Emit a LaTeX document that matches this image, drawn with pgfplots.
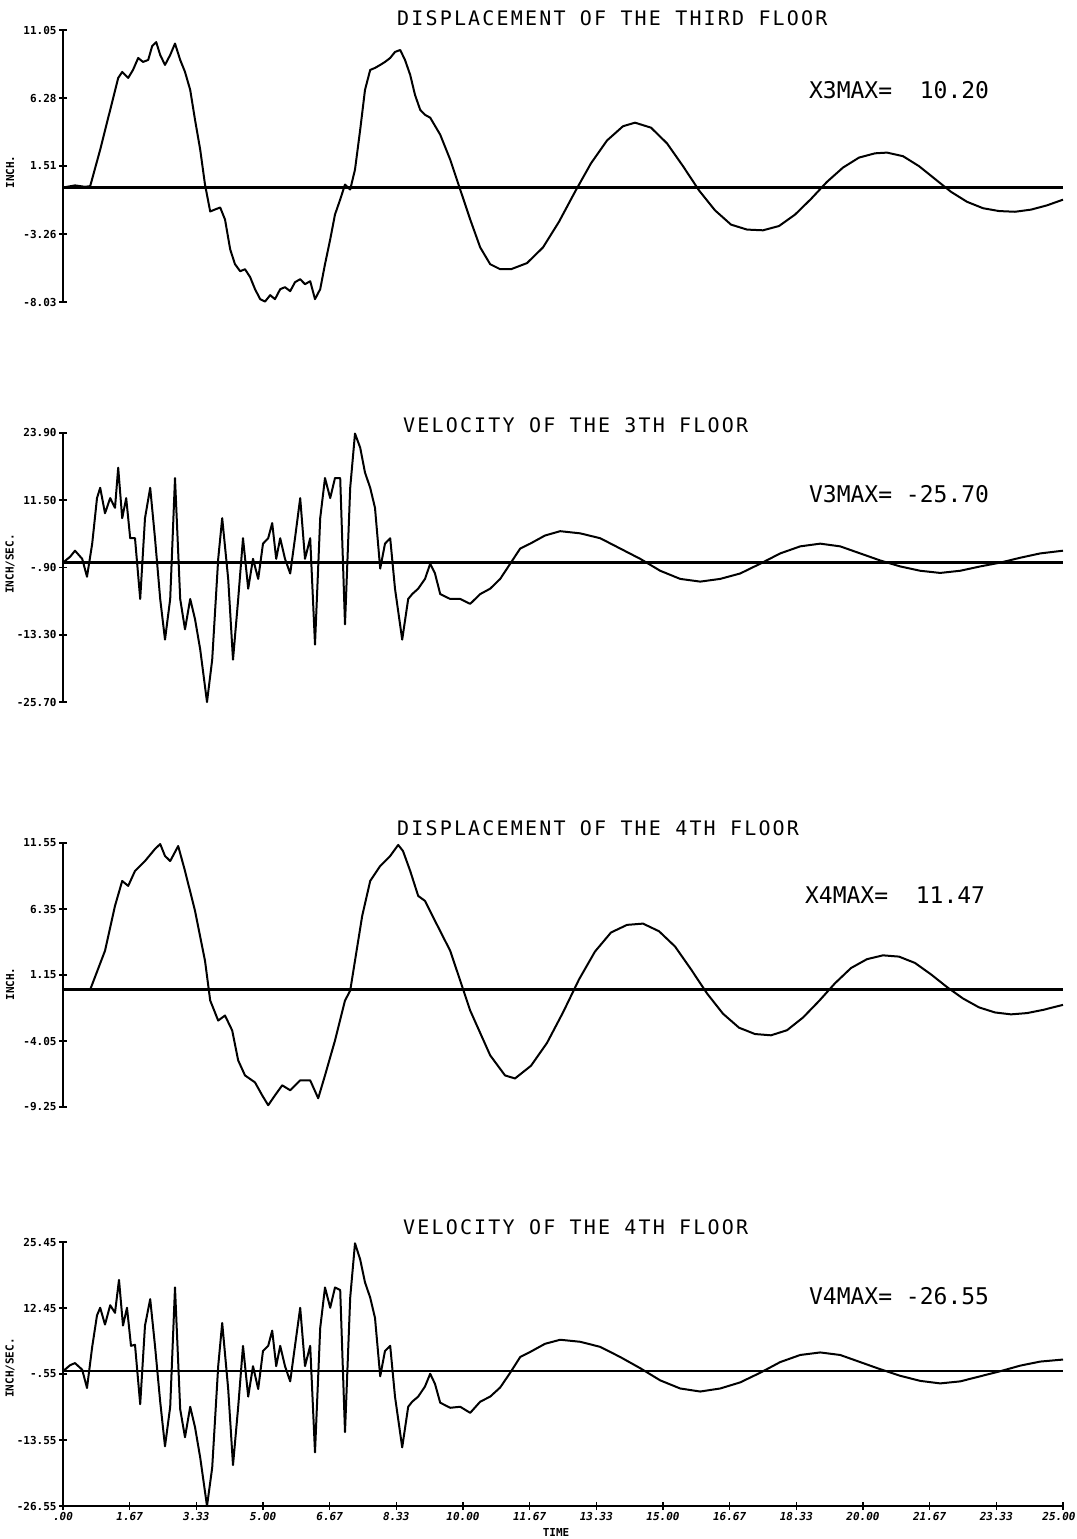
\documentclass[border=0pt]{standalone}
\usepackage{pgfplots}
\usepackage{pgfplotstable}
\pgfplotsset{compat=1.18}
\usepackage{fontspec}
\setmainfont{DejaVu Sans Mono}
\newfontfamily\titlefont[LetterSpace=11]{DejaVu Sans Mono}

\pgfplotstableread{
t v
0 0
0.3 0.15
0.55 0.05
0.68 0.1
0.93 2.66
1.18 5.45
1.38 7.69
1.48 8.11
1.63 7.69
1.75 8.25
1.88 9.09
2.0 8.81
2.13 8.95
2.23 9.93
2.33 10.2
2.43 9.30
2.55 8.60
2.68 9.30
2.8 10.1
2.93 8.95
3.05 8.11
3.18 6.85
3.3 4.76
3.43 2.66
3.55 0.21
3.68 -1.68
3.8 -1.54
3.93 -1.40
4.05 -2.24
4.18 -4.34
4.3 -5.38
4.43 -5.87
4.55 -5.73
4.68 -6.29
4.8 -7.13
4.93 -7.83
5.05 -8.0
5.18 -7.55
5.3 -7.83
5.43 -7.13
5.55 -6.99
5.68 -7.27
5.8 -6.64
5.93 -6.43
6.05 -6.78
6.18 -6.57
6.3 -7.83
6.43 -7.13
6.55 -5.38
6.68 -3.64
6.8 -1.89
6.93 -0.84
7.05 0.21
7.18 -0.14
7.3 1.26
7.43 4.06
7.55 6.85
7.68 8.25
7.8 8.39
7.93 8.60
8.05 8.81
8.18 9.09
8.3 9.51
8.43 9.65
8.55 8.95
8.68 7.90
8.8 6.50
8.93 5.45
9.05 5.10
9.18 4.90
9.43 3.71
9.68 1.96
9.93 -0.14
10.18 -2.24
10.43 -4.20
10.68 -5.38
10.93 -5.73
11.2 -5.73
11.6 -5.3
12.0 -4.2
12.4 -2.4
12.8 -0.3
13.2 1.7
13.6 3.3
14.0 4.3
14.3 4.55
14.7 4.2
15.1 3.1
15.5 1.5
15.9 -0.2
16.3 -1.6
16.7 -2.6
17.1 -2.95
17.5 -3.0
17.9 -2.7
18.3 -1.9
18.7 -0.8
19.1 0.4
19.5 1.4
19.9 2.1
20.3 2.4
20.6 2.45
21.0 2.2
21.4 1.5
21.8 0.6
22.2 -0.3
22.6 -1.0
23.0 -1.45
23.4 -1.65
23.8 -1.7
24.2 -1.55
24.6 -1.25
25.0 -0.85
}\dispthree

\pgfplotstableread{
t v
0 0
0.18 1.1
0.3 2.2
0.48 0.7
0.6 -2.6
0.73 3.5
0.85 11.9
0.93 13.8
1.05 9.1
1.18 11.9
1.3 10.1
1.38 17.5
1.48 8.2
1.58 11.9
1.68 4.5
1.8 4.5
1.93 -6.7
2.05 8.2
2.18 13.8
2.3 4.5
2.43 -6.7
2.55 -14.2
2.68 -6.7
2.8 15.6
2.93 -6.7
3.05 -12.3
3.18 -6.7
3.3 -10.4
3.43 -16.0
3.6 -25.7
3.73 -17.9
3.88 0.7
3.98 8.2
4.13 -3.0
4.25 -17.9
4.38 -6.7
4.5 4.5
4.63 -4.8
4.75 0.7
4.88 -3.0
5.0 3.5
5.13 4.5
5.23 7.3
5.33 0.7
5.43 4.5
5.55 0.7
5.68 -2.0
5.8 4.5
5.93 11.9
6.05 0.7
6.18 4.5
6.3 -15.1
6.43 8.2
6.55 15.6
6.68 11.9
6.8 15.6
6.93 15.6
7.05 -11.4
7.18 13.8
7.3 23.8
7.43 21.2
7.55 16.6
7.68 13.8
7.8 10.1
7.93 -1.1
8.05 3.5
8.18 4.5
8.3 -4.8
8.48 -14.2
8.63 -6.7
8.73 -5.8
8.88 -4.8
9.05 -3.0
9.18 -0.2
9.3 -2.0
9.43 -5.8
9.68 -6.7
9.93 -6.7
10.18 -7.6
10.43 -5.8
10.68 -4.8
10.93 -3.0
11.18 -0.2
11.43 2.6
11.68 3.5
12.05 5.0
12.43 5.8
12.93 5.4
13.43 4.5
13.93 2.6
14.43 0.7
14.93 -1.5
15.43 -3.0
15.93 -3.5
16.43 -3.0
16.93 -2.0
17.43 -0.2
17.93 1.7
18.43 3.0
18.93 3.5
19.43 3.0
19.93 1.7
20.43 0.4
20.93 -0.7
21.43 -1.5
21.93 -1.9
22.43 -1.5
22.93 -0.7
23.43 0.0
23.93 0.9
24.43 1.7
25.0 2.2
}\velthree

\pgfplotstableread{
t v
0 0
0.68 0
1.05 3.06
1.3 6.60
1.48 8.56
1.63 8.17
1.8 9.35
2.05 10.13
2.3 11.08
2.43 11.47
2.55 10.53
2.68 10.13
2.88 11.31
3.05 9.35
3.3 6.21
3.55 2.28
3.68 -0.86
3.88 -2.44
4.05 -2.04
4.23 -3.22
4.38 -5.58
4.55 -6.76
4.8 -7.31
4.98 -8.33
5.13 -9.11
5.3 -8.33
5.48 -7.54
5.68 -7.93
5.93 -7.15
6.18 -7.15
6.38 -8.56
6.55 -6.76
6.8 -4.01
7.05 -0.86
7.18 -0.08
7.3 2.28
7.48 5.81
7.68 8.56
7.93 9.74
8.18 10.53
8.38 11.40
8.5 10.92
8.68 9.35
8.88 7.38
9.05 6.99
9.3 5.42
9.68 3.06
10.18 -1.65
10.68 -5.18
11.05 -6.76
11.3 -7.0
11.7 -6.0
12.1 -4.2
12.5 -1.8
12.9 0.8
13.3 3.0
13.7 4.5
14.1 5.1
14.5 5.2
14.9 4.6
15.3 3.4
15.7 1.6
16.1 -0.3
16.5 -1.9
16.9 -3.0
17.3 -3.5
17.7 -3.6
18.1 -3.2
18.5 -2.2
18.9 -0.9
19.3 0.5
19.7 1.7
20.1 2.4
20.5 2.7
20.9 2.6
21.3 2.1
21.7 1.2
22.1 0.2
22.5 -0.7
22.9 -1.4
23.3 -1.8
23.7 -1.95
24.1 -1.85
24.5 -1.6
25.0 -1.2
}\dispfour

\pgfplotstableread{
t v
0 0
0.18 1.2
0.3 1.6
0.48 0.3
0.6 -3.3
0.73 4.8
0.85 11.0
0.93 12.5
1.05 9.2
1.18 13.0
1.3 11.5
1.4 18.0
1.5 9.0
1.6 12.5
1.7 5.0
1.8 5.2
1.93 -6.5
2.05 9.0
2.18 14.2
2.3 5.0
2.43 -6.0
2.55 -14.8
2.68 -7.0
2.8 16.5
2.93 -7.5
3.05 -13.0
3.18 -7.0
3.3 -11.0
3.43 -17.0
3.6 -26.55
3.73 -19.0
3.88 1.0
3.98 9.5
4.13 -3.5
4.25 -18.5
4.38 -7.0
4.5 5.0
4.63 -5.0
4.75 1.0
4.88 -3.5
5.0 4.0
5.13 5.0
5.23 8.0
5.33 1.0
5.43 5.0
5.55 1.0
5.68 -2.0
5.8 5.0
5.93 12.5
6.05 1.0
6.18 5.0
6.3 -16.0
6.43 8.5
6.55 16.5
6.68 12.5
6.8 16.5
6.93 16.0
7.05 -12.0
7.18 14.5
7.3 25.2
7.43 22.0
7.55 17.5
7.68 14.5
7.8 10.5
7.93 -1.0
8.05 4.0
8.18 5.0
8.3 -5.0
8.48 -15.0
8.63 -7.0
8.73 -6.0
8.88 -5.0
9.05 -3.0
9.18 -0.5
9.3 -2.5
9.43 -6.2
9.68 -7.2
9.93 -7.0
10.18 -8.2
10.43 -6.0
10.68 -5.0
10.93 -3.2
11.18 -0.3
11.43 2.8
11.68 3.8
12.05 5.4
12.43 6.2
12.93 5.8
13.43 4.8
13.93 2.8
14.43 0.6
14.93 -1.8
15.43 -3.4
15.93 -4.0
16.43 -3.4
16.93 -2.2
17.43 -0.3
17.93 1.8
18.43 3.2
18.93 3.7
19.43 3.2
19.93 1.8
20.43 0.4
20.93 -0.9
21.43 -1.9
21.93 -2.4
22.43 -2.0
22.93 -1.0
23.43 0.0
23.93 1.1
24.43 1.9
25.0 2.3
}\velfour

\pgfplotstableread{
t v
0 0
25 0
}\zeroline

\pgfplotsset{
  panel/.style={
    scale only axis, width=500pt, anchor=north west,
    xmin=0, xmax=25,
    tick align=outside, major tick length=4pt,
    every tick/.style={black, line width=0.8pt},
    yticklabel style={font=\fontsize{5.5}{6}\selectfont\bfseries, inner sep=1pt},
    clip=false,
  },
  curve/.style={black, line width=1.0pt, no marks, line join=round},
  zero/.style={black, line width=1.2pt, no marks},
}

\begin{document}
\begin{tikzpicture}
\path[use as bounding box] (0,0) rectangle (538.5pt,-769.5pt);

% Panel 1
\begin{axis}[panel, axis y line=left, axis x line=none, axis line style={-, line width=0.9pt, black},
  at={(31.5pt,-15pt)}, height=136pt,
  ymin=-8.03, ymax=11.05,
  ytick={-8.03,-3.26,1.51,6.28,11.05},
  yticklabels={-8.03,-3.26,1.51,6.28,11.05}]
\addplot[zero] table {\zeroline};
\addplot[curve] table {\dispthree};
\end{axis}

% Panel 2
\begin{axis}[panel, axis y line=left, axis x line=none, axis line style={-, line width=0.9pt, black},
  at={(31.5pt,-216.5pt)}, height=134.5pt,
  ymin=-25.70, ymax=23.90,
  ytick={-25.70,-13.30,-0.90,11.50,23.90},
  yticklabels={-25.70,-13.30,-.90,11.50,23.90}]
\addplot[zero] table {\zeroline};
\addplot[curve] table {\velthree};
\end{axis}

% Panel 3
\begin{axis}[panel, axis y line=left, axis x line=none, axis line style={-, line width=0.9pt, black},
  at={(31.5pt,-421.5pt)}, height=132pt,
  ymin=-9.25, ymax=11.55,
  ytick={-9.25,-4.05,1.15,6.35,11.55},
  yticklabels={-9.25,-4.05,1.15,6.35,11.55}]
\addplot[zero] table {\zeroline};
\addplot[curve] table {\dispfour};
\end{axis}

% Panel 4
\begin{axis}[panel, axis y line=left, axis x line=bottom, axis line style={-, line width=0.9pt, black},
  at={(31.5pt,-621pt)}, height=132pt,
  ymin=-26.55, ymax=25.45,
  ytick={-26.55,-13.55,-0.55,12.45,25.45},
  yticklabels={-26.55,-13.55,-.55,12.45,25.45},
  xtick={0,1.6667,3.3333,5,6.6667,8.3333,10,11.6667,13.3333,15,16.6667,18.3333,20,21.6667,23.3333,25},
  xticklabels={.00,1.67,3.33,5.00,6.67,8.33,10.00,11.67,13.33,15.00,16.67,18.33,20.00,21.67,23.33,{\kern-4pt 25.00}},
  xticklabel style={font=\fontsize{5.5}{6}\selectfont\bfseries\itshape, inner sep=1pt}]
\addplot[zero] table {\zeroline};
\addplot[curve] table {\velfour};
\end{axis}

% Titles
\node[anchor=west, font=\titlefont\fontsize{10}{10}\selectfont] at (195pt,-9pt) {DISPLACEMENT OF THE THIRD FLOOR};
\node[anchor=west, font=\titlefont\fontsize{10}{10}\selectfont] at (198pt,-212.5pt) {VELOCITY OF THE 3TH FLOOR};
\node[anchor=west, font=\titlefont\fontsize{10}{10}\selectfont] at (195pt,-414pt) {DISPLACEMENT OF THE 4TH FLOOR};
\node[anchor=west, font=\titlefont\fontsize{10}{10}\selectfont] at (198pt,-613.5pt) {VELOCITY OF THE 4TH FLOOR};

% Max values
\node[anchor=west, font=\fontsize{11.5}{12}\selectfont] at (401pt,-45pt) {X3MAX=\ \ 10.20};
\node[anchor=west, font=\fontsize{11.5}{12}\selectfont] at (401pt,-247pt) {V3MAX=\ -25.70};
\node[anchor=west, font=\fontsize{11.5}{12}\selectfont] at (399pt,-447.5pt) {X4MAX=\ \ 11.47};
\node[anchor=west, font=\fontsize{11.5}{12}\selectfont] at (401pt,-648pt) {V4MAX=\ -26.55};

% Y labels
\node[rotate=90, font=\fontsize{5.5}{6}\selectfont\bfseries] at (5pt,-86pt) {INCH.};
\node[rotate=90, font=\fontsize{5.5}{6}\selectfont\bfseries] at (5pt,-282pt) {INCH/SEC.};
\node[rotate=90, font=\fontsize{5.5}{6}\selectfont\bfseries] at (5pt,-492pt) {INCH.};
\node[rotate=90, font=\fontsize{5.5}{6}\selectfont\bfseries] at (5pt,-684pt) {INCH/SEC.};

% Time label
\node[font=\fontsize{5.5}{6}\selectfont\bfseries] at (278pt,-766pt) {TIME};
\end{tikzpicture}
\end{document}
